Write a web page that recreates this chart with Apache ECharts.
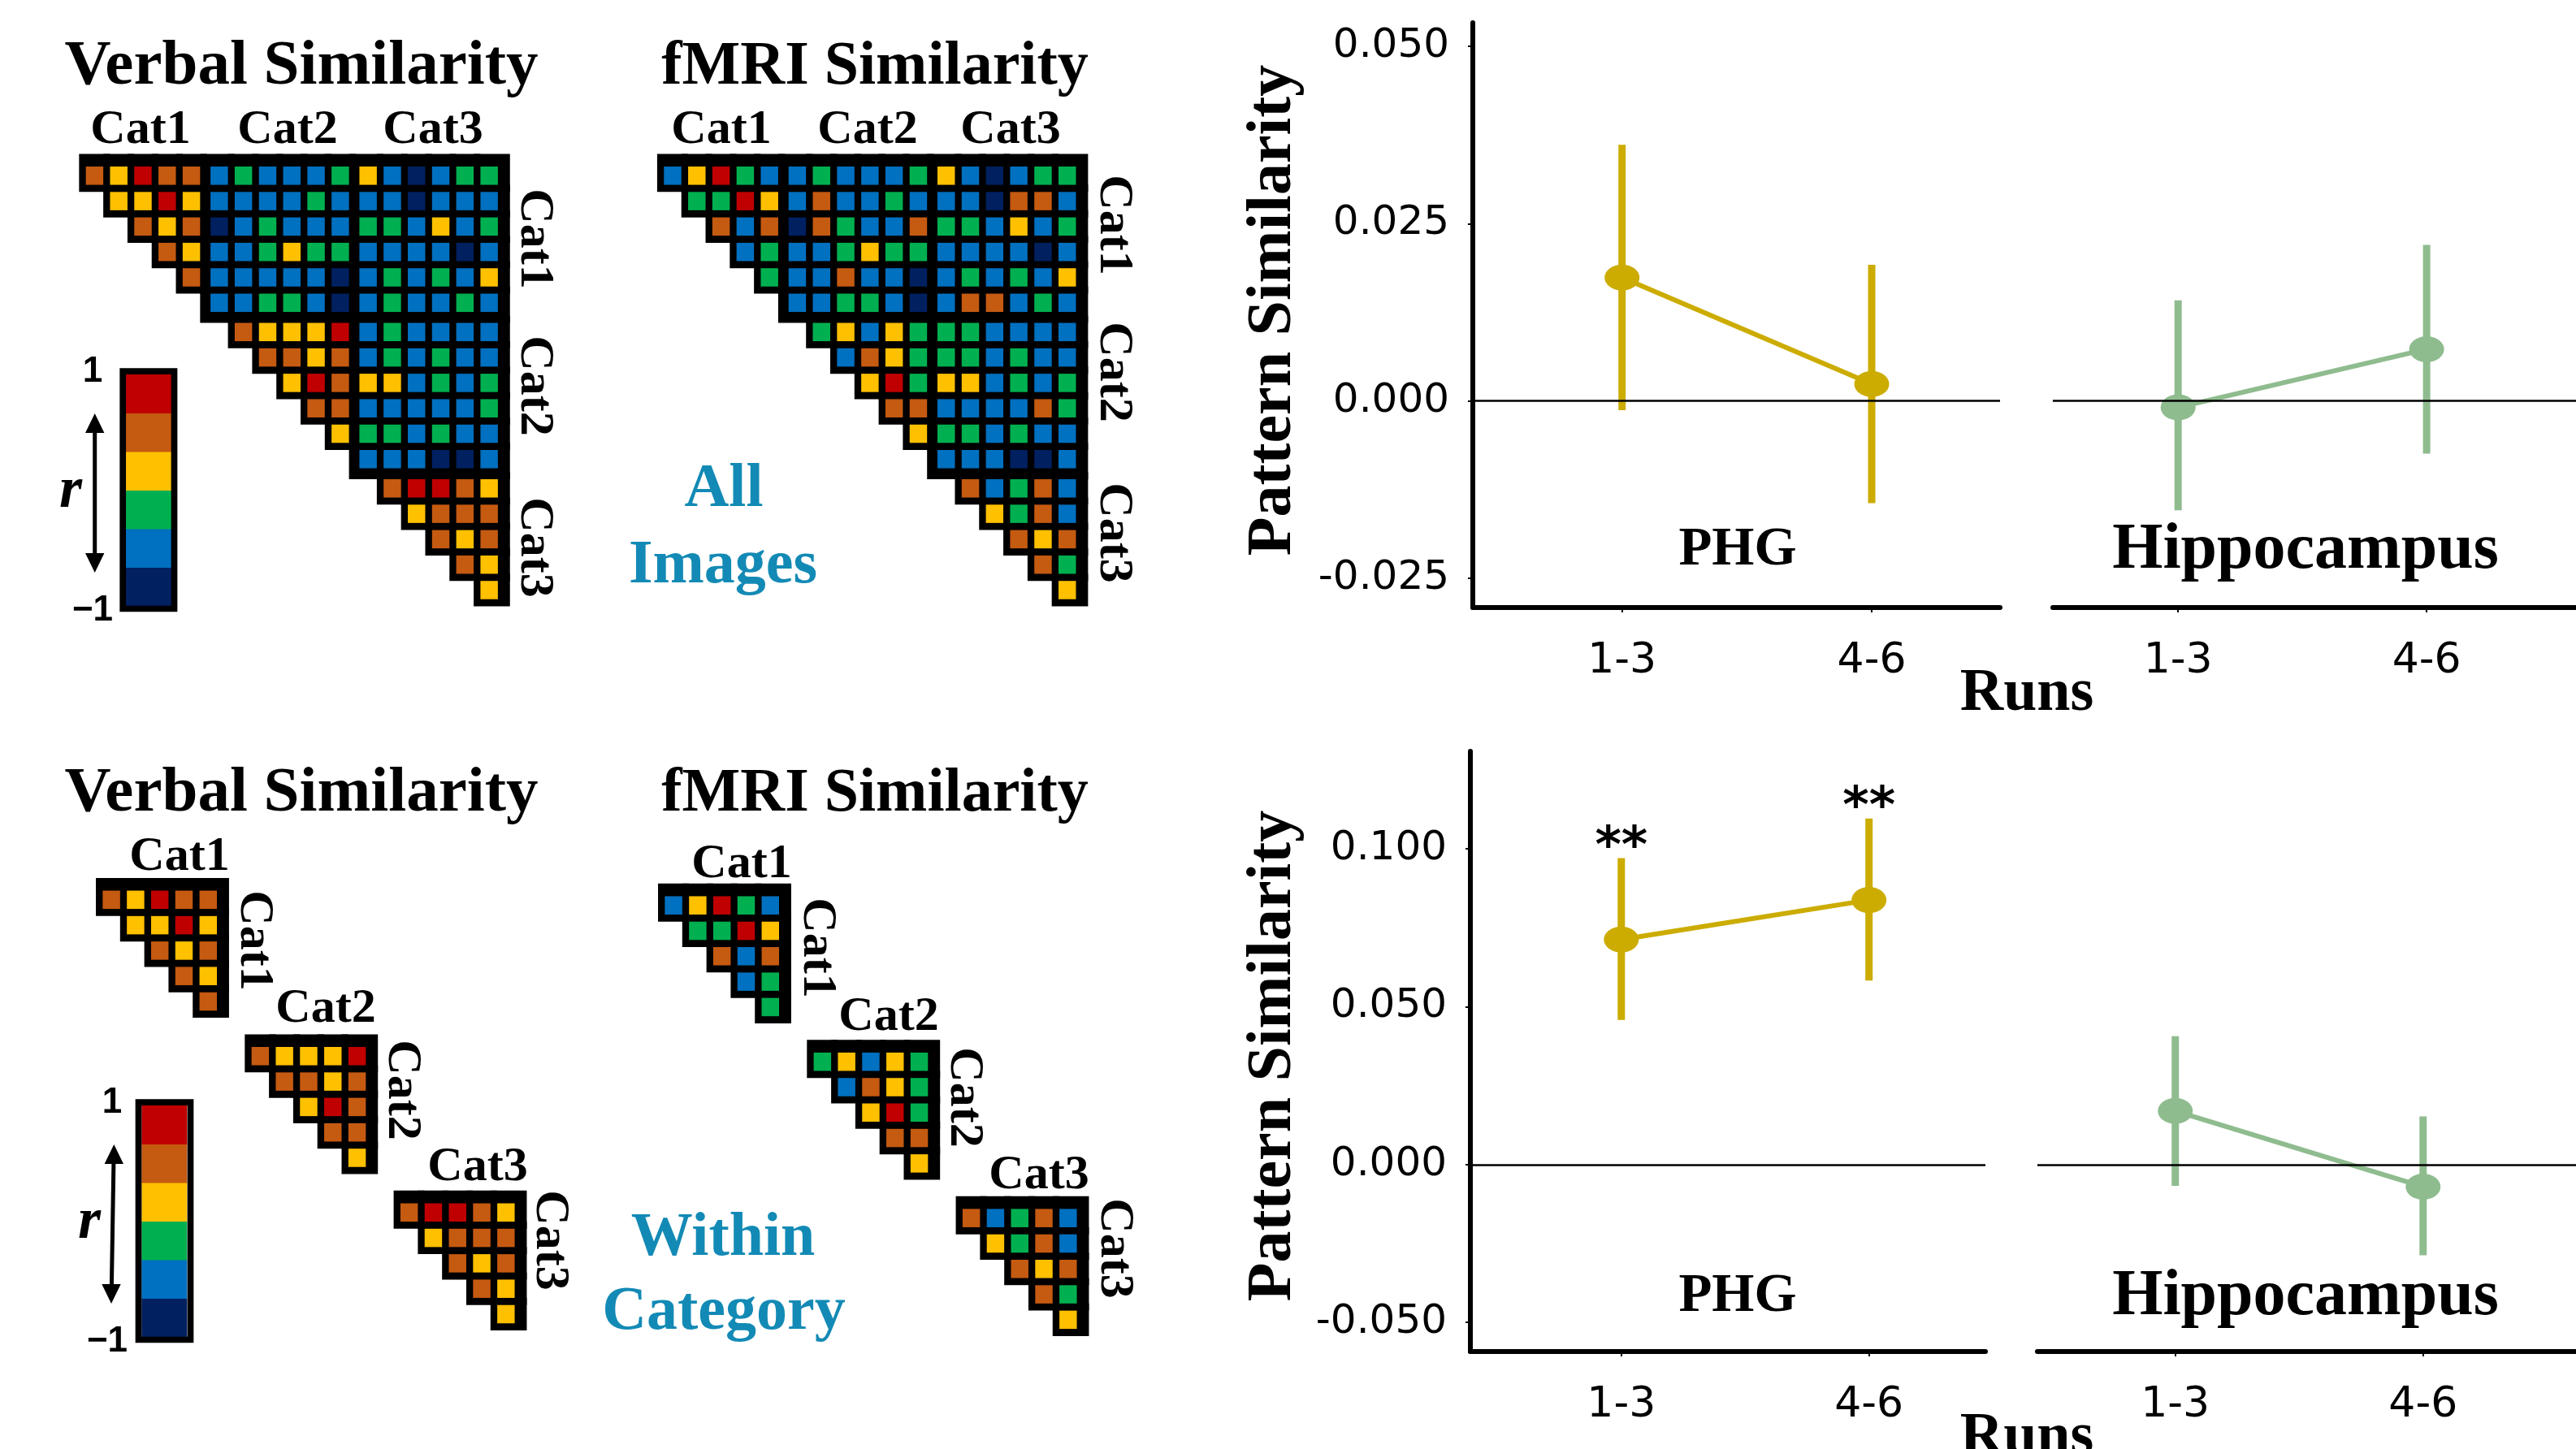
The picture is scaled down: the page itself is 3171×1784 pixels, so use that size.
<!DOCTYPE html>
<html>
<head>
<meta charset="utf-8">
<script src="https://cdn.jsdelivr.net/npm/echarts@6/dist/echarts.min.js"></script>
<style>
  html, body { margin: 0; padding: 0; background: #fff; }
  #chart { width: 3171px; height: 1784px; }
</style>
</head>
<body>
<div id="chart"></div>
<script>
// colour per r level: 0 = -1 ... 5 = +1
const levelColors = ['#002060', '#0070C0', '#00B050', '#FFC000', '#C55A11', '#C00000'];
const colorbarLevels = [0, 1, 2, 3, 4, 5];

// upper triangle, row i holds columns i+1..17 (3 categories x 6 images)
const verbalRows = [
  [4, 3, 5, 4, 4, 1, 2, 1, 1, 1, 2, 3, 1, 0, 1, 2, 2],
  [3, 3, 5, 3, 1, 1, 1, 1, 2, 1, 1, 1, 0, 1, 1, 1],
  [4, 3, 4, 0, 1, 2, 1, 1, 1, 2, 2, 1, 3, 1, 2],
  [4, 3, 1, 1, 2, 3, 2, 2, 1, 1, 1, 1, 0, 1],
  [4, 1, 1, 1, 1, 1, 0, 1, 2, 1, 2, 1, 3],
  [1, 1, 2, 2, 1, 0, 1, 2, 1, 1, 2, 1],
  [4, 3, 3, 3, 5, 1, 2, 1, 1, 1, 1],
  [4, 4, 3, 4, 1, 2, 1, 2, 1, 1],
  [3, 5, 4, 3, 3, 1, 2, 1, 2],
  [4, 4, 1, 1, 1, 1, 1, 2],
  [3, 2, 2, 1, 2, 1, 1],
  [1, 1, 1, 0, 0, 1],
  [4, 5, 5, 4, 3],
  [3, 4, 4, 4],
  [4, 3, 4],
  [4, 3],
  [3]
];
const fmriRows = [
  [1, 3, 5, 2, 1, 1, 2, 1, 1, 1, 2, 3, 1, 0, 1, 2, 2],
  [2, 2, 5, 3, 1, 4, 1, 1, 2, 1, 1, 1, 0, 4, 4, 1],
  [4, 1, 4, 0, 4, 2, 1, 1, 4, 2, 2, 1, 3, 1, 2],
  [1, 2, 1, 1, 2, 3, 2, 2, 1, 1, 1, 1, 0, 1],
  [2, 1, 1, 4, 1, 1, 0, 1, 2, 1, 2, 1, 3],
  [1, 1, 2, 2, 1, 0, 1, 4, 4, 1, 2, 1],
  [2, 3, 1, 3, 2, 2, 2, 1, 1, 1, 1],
  [1, 4, 3, 2, 2, 2, 1, 2, 1, 1],
  [3, 5, 2, 3, 3, 1, 2, 1, 2],
  [4, 4, 1, 1, 1, 1, 4, 2],
  [3, 2, 2, 1, 2, 1, 1],
  [1, 1, 1, 0, 0, 1],
  [4, 1, 2, 4, 1],
  [3, 2, 4, 1],
  [4, 3, 4],
  [4, 2],
  [3]
];

const runs = ['1-3', '4-6'];
const allTicks = [-0.025, 0, 0.025, 0.05];
const withinTicks = [-0.05, 0, 0.05, 0.1];

const allPhgMean = [0.0174, 0.0024];
const allPhgLow = [-0.0013, -0.0144];
const allPhgHigh = [0.0361, 0.0192];
const allHipMean = [-0.0009, 0.0073];
const allHipLow = [-0.0154, -0.0074];
const allHipHigh = [0.0142, 0.0220];

const withinPhgMean = [0.0713, 0.0838];
const withinPhgLow = [0.0458, 0.0583];
const withinPhgHigh = [0.0971, 0.1096];
const withinPhgSig = ['**', '**'];
const withinHipMean = [0.0170, -0.0070];
const withinHipLow = [-0.0067, -0.0287];
const withinHipHigh = [0.0407, 0.0153];

const PHG_COLOR = '#CCAC00';
const HIP_COLOR = '#8FBC8F';
const TEAL = '#138AB5';
const SERIF = '"Liberation Serif", "DejaVu Serif", serif';
const SANS = '"DejaVu Sans", sans-serif';

// matrix geometry in cell units
const PX = 29.8, PY = 31.3;
const GAP = 0.15, HALF = 0.36, PAD = 0.28, EXTRA = 0.22;
const blk = (k) => Math.floor(k / 6);

function cells(rows, withinOnly) {
  const out = [];
  rows.forEach((row, i) => row.forEach((lv, k) => {
    const j = i + 1 + k;
    if (withinOnly && blk(i) !== blk(j)) return;
    const top = withinOnly ? i % 6 === 0 : i === 0;
    const right = withinOnly ? j % 6 === 5 : j === 17;
    out.push([j + GAP * blk(j), i + GAP * blk(i), lv, i, j, top ? 1 : 0, right ? 1 : 0]);
  }));
  return out;
}

function bgItem(params, api) {
  const c = api.coord([api.value(0), api.value(1)]);
  const s = api.size([1, 1]);
  const i = api.value(3), j = api.value(4);
  const l = HALF + PAD + (j % 6 === 0 ? GAP : 0);
  const r = HALF + PAD + (api.value(6) ? EXTRA : 0);
  const t = HALF + PAD + (api.value(5) ? EXTRA : 0);
  const b = HALF + PAD + (i % 6 === 5 ? GAP : 0);
  return {
    type: 'rect',
    shape: { x: c[0] - l * s[0], y: c[1] - t * s[1], width: (l + r) * s[0], height: (t + b) * s[1] },
    style: { fill: '#000' }
  };
}

function cellItem(params, api) {
  const c = api.coord([api.value(0), api.value(1)]);
  const s = api.size([1, 1]);
  return {
    type: 'rect',
    shape: { x: c[0] - HALF * s[0], y: c[1] - HALF * s[1], width: 2 * HALF * s[0], height: 2 * HALF * s[1] },
    style: { fill: levelColors[api.value(2)] }
  };
}

const grids = [];
const xAxes = [];
const yAxes = [];
const series = [];

function addMatrix(rows, withinOnly, col1x, row0y) {
  const g = grids.length;
  grids.push({ left: col1x - PX, top: row0y - PY, width: 18 * PX, height: 18 * PY });
  xAxes.push({ type: 'value', gridIndex: g, min: 0, max: 18, show: false });
  yAxes.push({ type: 'value', gridIndex: g, min: -1, max: 17, inverse: true, show: false });
  const data = cells(rows, withinOnly);
  series.push({ type: 'custom', xAxisIndex: g, yAxisIndex: g, data, renderItem: bgItem, silent: true });
  series.push({ type: 'custom', xAxisIndex: g, yAxisIndex: g, data, renderItem: cellItem, silent: true });
}

addMatrix(verbalRows, false, 116.4, 216.3);
addMatrix(fmriRows, false, 828, 216.3);
addMatrix(verbalRows, true, 137.1, 1107.8);
addMatrix(fmriRows, true, 829.1, 1114.7);

function addColorbar(left, top) {
  const g = grids.length;
  grids.push({ left, top, width: 56, height: 285 });
  xAxes.push({ type: 'value', gridIndex: g, min: 0, max: 1, show: false });
  yAxes.push({ type: 'value', gridIndex: g, min: 0, max: 6, show: false });
  series.push({
    type: 'custom', xAxisIndex: g, yAxisIndex: g, silent: true,
    data: colorbarLevels.map(v => [v]),
    renderItem: (params, api) => {
      const lv = api.value(0);
      const a = api.coord([0, lv + 1]);
      const b = api.coord([1, lv]);
      return { type: 'rect', shape: { x: a[0], y: a[1], width: b[0] - a[0], height: b[1] - a[1] + 0.5 }, style: { fill: levelColors[lv] } };
    }
  });
}
addColorbar(155, 461);
addColorbar(174.3, 1361);

function addPanel(box, xr, yr, ticks, showY, means, lows, highs, color, marks) {
  const g = grids.length;
  grids.push(box);
  xAxes.push({
    type: 'value', gridIndex: g, min: xr[0], max: xr[1],
    axisLine: { show: true, onZero: false, lineStyle: { color: '#000', width: 6 } },
    axisTick: { show: true, customValues: [1, 2], length: 6, lineStyle: { color: '#000', width: 2 } },
    axisLabel: {
      customValues: [1, 2], formatter: v => runs[Math.round(v) - 1],
      fontSize: 52, fontFamily: SANS, color: '#000', margin: 40
    },
    splitLine: { show: false }
  });
  yAxes.push({
    type: 'value', gridIndex: g, min: yr[0], max: yr[1],
    axisLine: { show: showY, onZero: false, lineStyle: { color: '#000', width: 6 } },
    axisTick: { show: showY, customValues: ticks, length: 6, lineStyle: { color: '#000', width: 2 } },
    axisLabel: {
      show: showY, customValues: ticks, formatter: v => v.toFixed(3),
      fontSize: 50, fontFamily: SANS, color: '#000', margin: 29
    },
    splitLine: { show: false }
  });
  series.push({
    type: 'custom', xAxisIndex: g, yAxisIndex: g, z: 2, silent: true,
    data: means.map((m, k) => [k + 1, lows[k], highs[k]]),
    renderItem: (params, api) => {
      const lo = api.coord([api.value(0), api.value(1)]);
      const hi = api.coord([api.value(0), api.value(2)]);
      const children = [{
        type: 'line', shape: { x1: lo[0], y1: lo[1], x2: hi[0], y2: hi[1] },
        style: { stroke: color, lineWidth: 9 }
      }];
      if (marks && marks[params.dataIndex]) {
        children.push({
          type: 'text', x: hi[0], y: hi[1] - 12,
          style: {
            text: marks[params.dataIndex], fill: '#000', fontSize: 62, fontWeight: 'bold', fontFamily: SANS,
            align: 'center', verticalAlign: 'middle', textAlign: 'center', textVerticalAlign: 'middle'
          }
        });
      }
      return { type: 'group', children };
    },
    markLine: {
      silent: true, symbol: 'none', label: { show: false },
      lineStyle: { color: '#000', width: 2.5, type: 'solid' },
      data: [{ yAxis: 0 }]
    }
  });
  series.push({
    type: 'line', xAxisIndex: g, yAxisIndex: g, z: 3, silent: true,
    data: means.map((m, k) => [k + 1, m]),
    lineStyle: { color, width: 6 },
    itemStyle: { color },
    symbol: 'circle', symbolSize: [43, 32], showAllSymbol: true
  });
}

addPanel({ left: 1813, top: 28, width: 649, height: 720 }, [0.4022, 2.514], [-0.0291, 0.0533], allTicks, true,
  allPhgMean, allPhgLow, allPhgHigh, PHG_COLOR, null);
addPanel({ left: 2527, top: 28, width: 644, height: 720 }, [0.496, 2.601], [-0.0291, 0.0533], allTicks, false,
  allHipMean, allHipLow, allHipHigh, HIP_COLOR, null);
addPanel({ left: 1810, top: 925, width: 634, height: 739 }, [0.3906, 2.47], [-0.0592, 0.1309], withinTicks, true,
  withinPhgMean, withinPhgLow, withinPhgHigh, PHG_COLOR, withinPhgSig);
addPanel({ left: 2508, top: 925, width: 663, height: 739 }, [0.4436, 2.617], [-0.0592, 0.1309], withinTicks, false,
  withinHipMean, withinHipLow, withinHipHigh, HIP_COLOR, null);

function txt(text, x, y, size, opts) {
  const o = opts || {};
  return {
    type: 'text', x, y, rotation: o.rot || 0, z: 100,
    style: {
      text, fill: o.color || '#000', fontSize: size, fontWeight: o.weight || 'bold',
      fontStyle: o.italic ? 'italic' : 'normal', fontFamily: o.family || SERIF,
      align: 'center', verticalAlign: 'middle', textAlign: 'center', textVerticalAlign: 'middle'
    }
  };
}
const ROT = -Math.PI / 2;
const CAT = 60;

const graphic = [
  txt('Verbal Similarity', 371, 83, 79),
  txt('fMRI Similarity', 1077, 83, 76),
  txt('Verbal Similarity', 371, 978, 79),
  txt('fMRI Similarity', 1077, 978, 76),

  txt('Cat1', 173, 160, CAT), txt('Cat2', 354, 160, CAT), txt('Cat3', 533, 160, CAT),
  txt('Cat1', 888, 160, CAT), txt('Cat2', 1068, 160, CAT), txt('Cat3', 1244, 160, CAT),
  txt('Cat1', 657, 294, CAT, { rot: ROT }), txt('Cat2', 657, 475, CAT, { rot: ROT }), txt('Cat3', 657, 674, CAT, { rot: ROT }),
  txt('Cat1', 1370, 277, CAT, { rot: ROT }), txt('Cat2', 1370, 458, CAT, { rot: ROT }), txt('Cat3', 1370, 656, CAT, { rot: ROT }),

  txt('Cat1', 221, 1055, CAT), txt('Cat2', 401, 1242, CAT), txt('Cat3', 588, 1437, CAT),
  txt('Cat1', 312, 1158, CAT, { rot: ROT }), txt('Cat2', 494, 1342, CAT, { rot: ROT }), txt('Cat3', 676, 1527, CAT, { rot: ROT }),
  txt('Cat1', 913, 1064, CAT), txt('Cat2', 1094, 1252, CAT), txt('Cat3', 1279, 1447, CAT),
  txt('Cat1', 1005, 1167, CAT, { rot: ROT }), txt('Cat2', 1186, 1351, CAT, { rot: ROT }), txt('Cat3', 1371, 1537, CAT, { rot: ROT }),

  txt('All', 891, 603, 76, { color: TEAL }),
  txt('Images', 890, 697, 76, { color: TEAL }),
  txt('Within', 890, 1525, 76, { color: TEAL }),
  txt('Category', 891, 1616, 76, { color: TEAL }),

  txt('Pattern Similarity', 1568, 382, 78, { rot: Math.PI / 2 }),
  txt('Pattern Similarity', 1568, 1300, 78, { rot: Math.PI / 2 }),
  txt('PHG', 2139, 678, 67), txt('Hippocampus', 2838, 678, 80),
  txt('PHG', 2139, 1597, 67), txt('Hippocampus', 2838, 1597, 80),
  txt('Runs', 2495, 855, 74), txt('Runs', 2495, 1771, 74),

  // colour bars: frame, end labels, arrow, r
  { type: 'rect', z: 100, shape: { x: 151.2, y: 457.2, width: 63.3, height: 292.3 }, style: { fill: 'none', stroke: '#000', lineWidth: 7.7 } },
  { type: 'rect', z: 100, shape: { x: 170.5, y: 1357.2, width: 64, height: 292.3 }, style: { fill: 'none', stroke: '#000', lineWidth: 7.7 } },
  txt('1', 114, 458, 44, { family: '"Liberation Sans", Arial, sans-serif' }),
  txt('\u22121', 114, 752, 44, { family: '"Liberation Sans", Arial, sans-serif' }),
  txt('1', 138, 1358, 44, { family: '"Liberation Sans", Arial, sans-serif' }),
  txt('\u22121', 132, 1652, 44, { family: '"Liberation Sans", Arial, sans-serif' }),
  txt('r', 87, 605, 72, { italic: true }),
  txt('r', 110, 1505, 72, { italic: true }),
  { type: 'line', z: 100, shape: { x1: 116.7, y1: 525, x2: 116.7, y2: 690 }, style: { stroke: '#000', lineWidth: 5 } },
  { type: 'polygon', z: 100, shape: { points: [[116.7, 509], [105, 533], [128.4, 533]] }, style: { fill: '#000' } },
  { type: 'polygon', z: 100, shape: { points: [[116.7, 705], [105, 681], [128.4, 681]] }, style: { fill: '#000' } },
  { type: 'line', z: 100, shape: { x1: 140, y1: 1425, x2: 137.3, y2: 1590 }, style: { stroke: '#000', lineWidth: 5 } },
  { type: 'polygon', z: 100, shape: { points: [[140.3, 1409], [128.6, 1433], [152, 1433]] }, style: { fill: '#000' } },
  { type: 'polygon', z: 100, shape: { points: [[137, 1605], [125.3, 1581], [148.7, 1581]] }, style: { fill: '#000' } }
];

const chart = echarts.init(document.getElementById('chart'), null, { renderer: 'canvas' });
chart.setOption({
  animation: false,
  backgroundColor: '#fff',
  grid: grids,
  xAxis: xAxes,
  yAxis: yAxes,
  series,
  graphic
});
</script>
</body>
</html>
